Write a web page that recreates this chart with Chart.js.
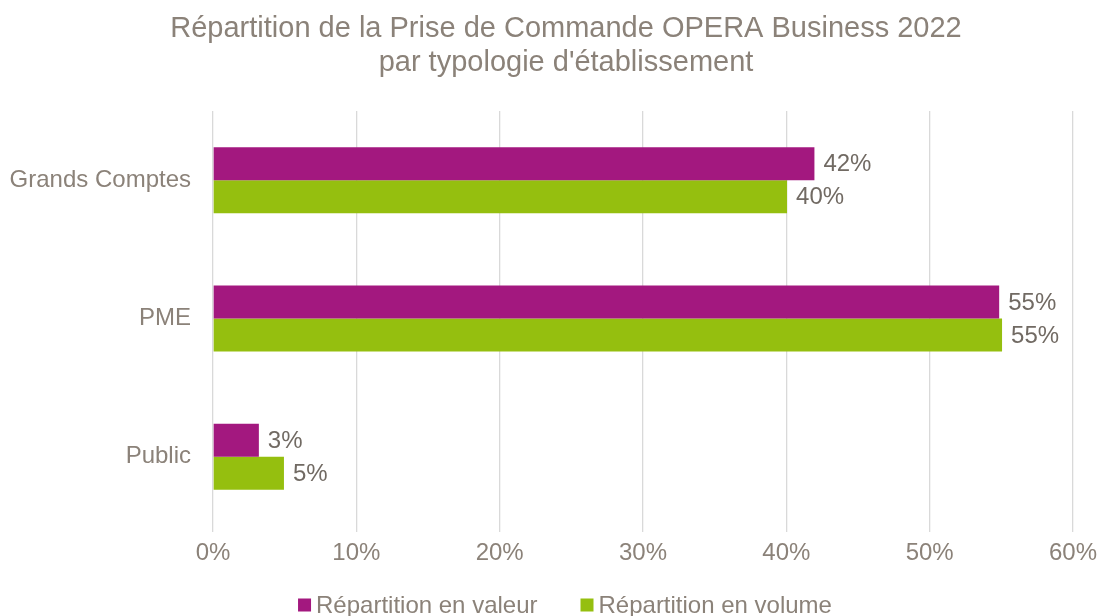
<!DOCTYPE html>
<html>
<head>
<meta charset="utf-8">
<script src="https://cdn.jsdelivr.net/npm/chart.js@4/dist/chart.umd.min.js"></script>
<style>
  html, body { margin: 0; padding: 0; background: #ffffff; }
  #wrap { width: 1099px; height: 616px; position: relative; }
</style>
</head>
<body>
<div id="wrap"><canvas id="chart"></canvas></div>
<script>
const categories = ['Grands Comptes', 'PME', 'Public'];
const valeur = [41.96, 54.85, 3.2];
const volume = [40.05, 55.05, 4.95];
const seriesNames = ['Répartition en valeur', 'Répartition en volume'];
const titleLines = ['Répartition de la Prise de Commande OPERA Business 2022',
                    'par typologie d\'établissement'];
const xTicks = [0, 10, 20, 30, 40, 50, 60];

const textColour = '#8b8279';
const labelColour = '#716a63';
const fontFamily = "'Liberation Sans', Arial, sans-serif";

// Two-line title, centred a little right of the canvas middle
const titleBlock = {
  id: 'titleBlock',
  afterDraw(chart) {
    const c = chart.ctx;
    c.save();
    c.font = `29px ${fontFamily}`;
    c.fillStyle = textColour;
    c.textAlign = 'center';
    c.textBaseline = 'middle';
    titleLines.forEach((line, i) => c.fillText(line, 566, 29 + i * 34));
    c.restore();
  }
};

// Value labels drawn to the right of each bar
const valueLabels = {
  id: 'valueLabels',
  afterDatasetsDraw(chart) {
    const c = chart.ctx;
    c.save();
    c.font = `24px ${fontFamily}`;
    c.fillStyle = labelColour;
    c.textBaseline = 'middle';
    c.textAlign = 'left';
    chart.data.datasets.forEach((ds, i) => {
      chart.getDatasetMeta(i).data.forEach((bar, j) => {
        c.fillText(Math.round(ds.data[j]) + '%', bar.x + 9, bar.y + 1);
      });
    });
    c.restore();
  }
};

// Legend sitting at the very bottom edge
const bottomLegend = {
  id: 'bottomLegend',
  afterDraw(chart) {
    const c = chart.ctx;
    c.save();
    c.font = `24px ${fontFamily}`;
    c.textBaseline = 'middle';
    const box = 13, gap = 5, itemGap = 43;
    const widths = chart.data.datasets.map(ds => box + gap + c.measureText(ds.label).width);
    const total = widths.reduce((a, b) => a + b, 0) + itemGap * (widths.length - 1);
    let x = 565 - total / 2;
    const y = 605;
    chart.data.datasets.forEach((ds, i) => {
      c.fillStyle = ds.backgroundColor;
      c.fillRect(x, y - box / 2, box, box);
      c.fillStyle = textColour;
      c.fillText(ds.label, x + box + gap, y + 1);
      x += widths[i] + itemGap;
    });
    c.restore();
  }
};

const ctx = document.getElementById('chart').getContext('2d');

const chart = new Chart(ctx, {
  type: 'bar',
  data: {
    labels: categories,
    datasets: [
      {label: seriesNames[0], data: valeur, backgroundColor: '#a3187f'},
      {label: seriesNames[1], data: volume, backgroundColor: '#95bf0f'},
    ],
  },
  options: {
    indexAxis: 'y',
    responsive: true,
    maintainAspectRatio: false,
    animation: false,
    categoryPercentage: 0.477,
    barPercentage: 1,
    layout: {
      padding: {left: 0, right: 26, top: 111, bottom: 40},
    },
    plugins: {
      legend: {display: false},
      tooltip: {enabled: false},
      title: {display: false},
    },
    scales: {
      x: {
        min: 0,
        max: 60,
        afterBuildTicks: s => { s.ticks = xTicks.map(v => ({value: v})); },
        afterFit: s => {
          s.height = 50;
          s.paddingLeft = 0;
          s.paddingRight = 0;
        },
        border: {display: false},
        grid: {color: '#d9d9d9', lineWidth: 1.3, tickLength: 6},
        ticks: {
          color: textColour,
          padding: 7,
          font: {family: fontFamily, size: 24},
          callback: v => v + '%',
        },
      },
      y: {
        afterFit: s => { s.width = 213; },
        border: {display: false},
        grid: {display: false, drawTicks: false},
        ticks: {
          color: textColour,
          padding: 22,
          font: {family: fontFamily, size: 24},
        },
      },
    },
  },
  plugins: [valueLabels, titleBlock, bottomLegend],
});
</script>
</body>
</html>
